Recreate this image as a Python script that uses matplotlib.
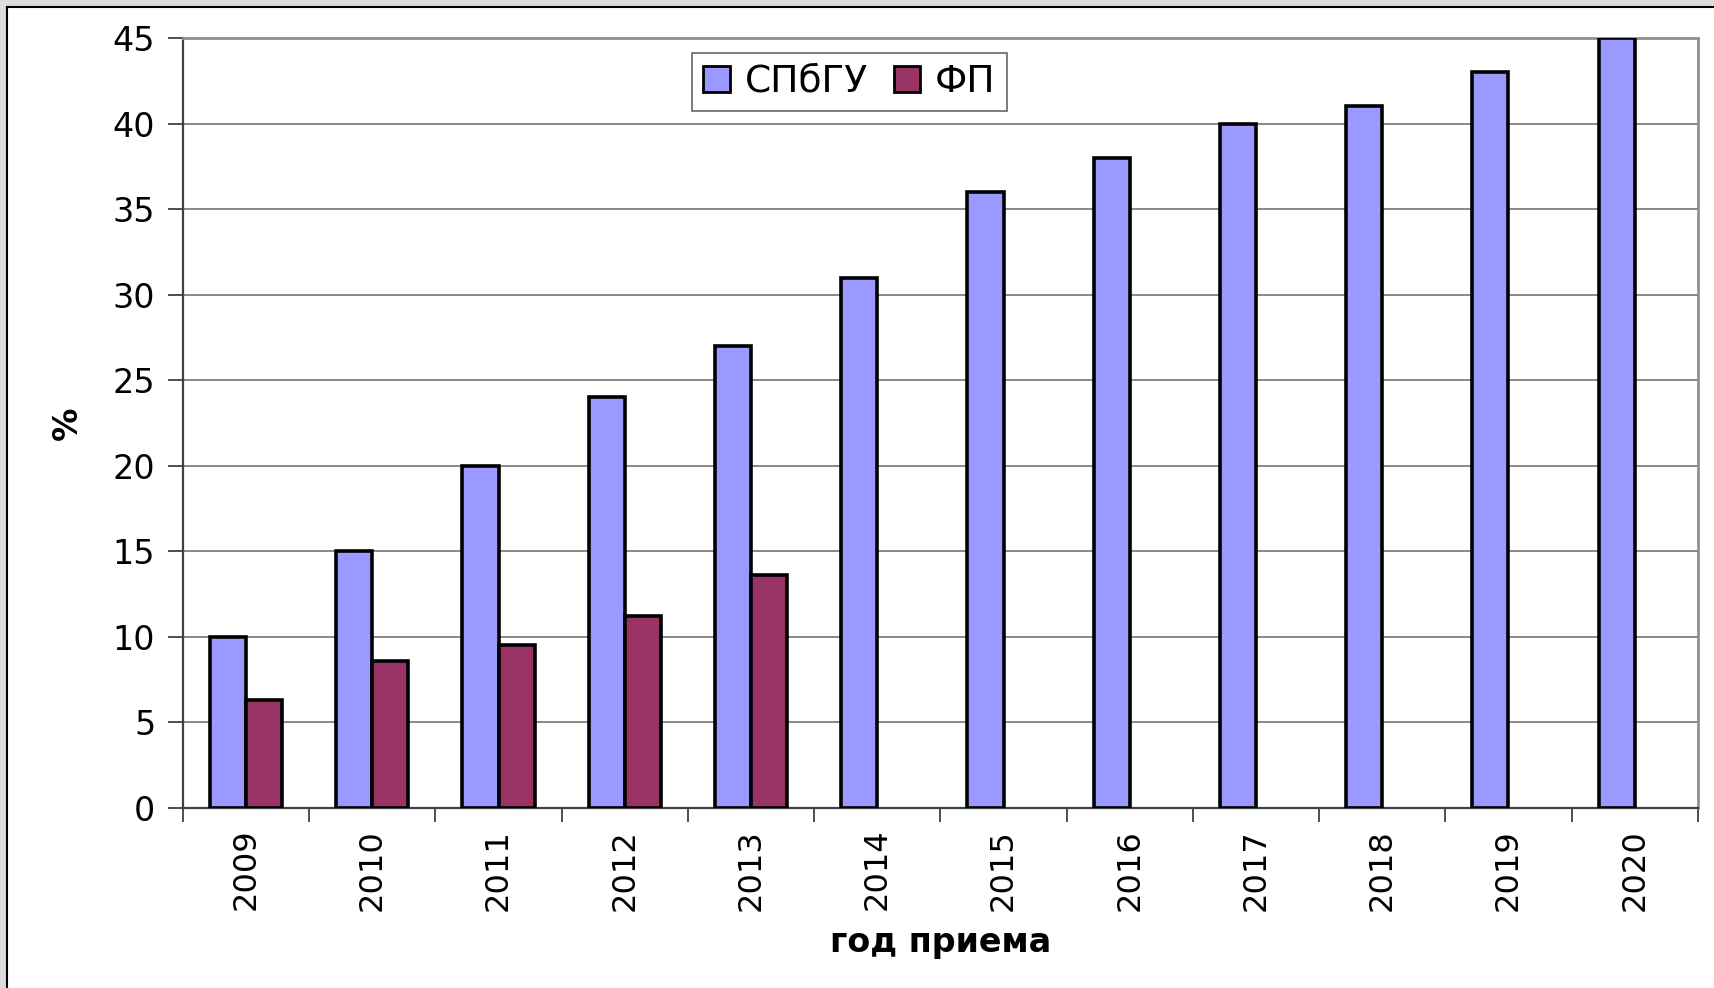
import numpy as np
import matplotlib
matplotlib.use("Agg")
import matplotlib.pyplot as plt
from matplotlib.patches import Rectangle
from matplotlib.lines import Line2D

years = ["2009", "2010", "2011", "2012", "2013", "2014",
         "2015", "2016", "2017", "2018", "2019", "2020"]
spbgu = [10, 15, 20, 24, 27, 31, 36, 38, 40, 41, 43, 45]
fp = [6.3, 8.6, 9.5, 11.2, 13.6]

plt.rcParams['font.family'] = ['DejaVu Sans']

fig = plt.figure(figsize=(17.15, 9.88), dpi=100)
ax = fig.add_axes([0.1067, 0.1822, 0.8833, 0.7793])

x = np.arange(len(years))
w = 0.286
ax.bar(x - w / 2, spbgu, w, color='#9999FF', edgecolor='black', linewidth=2.6, label='СПбГУ', zorder=3)
ax.bar(x[:len(fp)] + w / 2, fp, w, color='#993366', edgecolor='black', linewidth=2.6, label='ФП', zorder=3)

ax.set_xlim(-0.5, len(years) - 0.5)
ax.set_ylim(0, 45)
ax.set_yticks(range(0, 46, 5))
ax.yaxis.grid(True, color='#808080', linewidth=1.3, zorder=0)
ax.tick_params(axis='y', labelsize=24, length=11, width=1.3, color='#404040', pad=9)

ax.set_xticks(x)
ax.set_xticklabels(years, rotation=90, fontsize=23)
ax.tick_params(axis='x', length=0, pad=15)
ax.set_xticks(np.arange(len(years) + 1) - 0.5, minor=True)
ax.tick_params(axis='x', which='minor', length=10, width=1.3, color='#404040')

for s in ['top', 'right']:
    ax.spines[s].set_color('#909090')
    ax.spines[s].set_linewidth(2)
for s in ['left', 'bottom']:
    ax.spines[s].set_color('#404040')
    ax.spines[s].set_linewidth(1.6)

ax.set_ylabel('%', fontsize=24, fontweight='bold', va='center', ha='center')
ax.yaxis.set_label_coords(-0.076, 0.5)
ax.set_xlabel('год приема', fontsize=24, fontweight='bold', va='center', ha='center')
ax.xaxis.set_label_coords(0.5, -0.175)

leg = ax.legend(loc='upper center', bbox_to_anchor=(0.44, 0.981), ncol=2, fontsize=27,
                frameon=True, fancybox=False, edgecolor='#404040', borderaxespad=0,
                handlelength=0.7, handleheight=0.7, handletextpad=0.4, columnspacing=0.7,
                borderpad=0.3)
leg.get_frame().set_linewidth(1.2)
for h in leg.legend_handles:
    h.set_linewidth(2)

# outer chart frame
fig.patches.append(Rectangle((0, 0), 6 / 1715, 1, transform=fig.transFigure, color='#dcdcdc', zorder=0))
fig.patches.append(Rectangle((0, 1 - 5 / 988), 1, 5 / 988, transform=fig.transFigure, color='#dcdcdc', zorder=0))
fig.lines.append(Line2D([7.5 / 1715, 7.5 / 1715], [0, 1 - 7 / 988], transform=fig.transFigure, color='black', linewidth=1.5))
fig.lines.append(Line2D([7.5 / 1715, 1], [1 - 7 / 988, 1 - 7 / 988], transform=fig.transFigure, color='black', linewidth=1.5))

fig.savefig('out.png', dpi=100)
